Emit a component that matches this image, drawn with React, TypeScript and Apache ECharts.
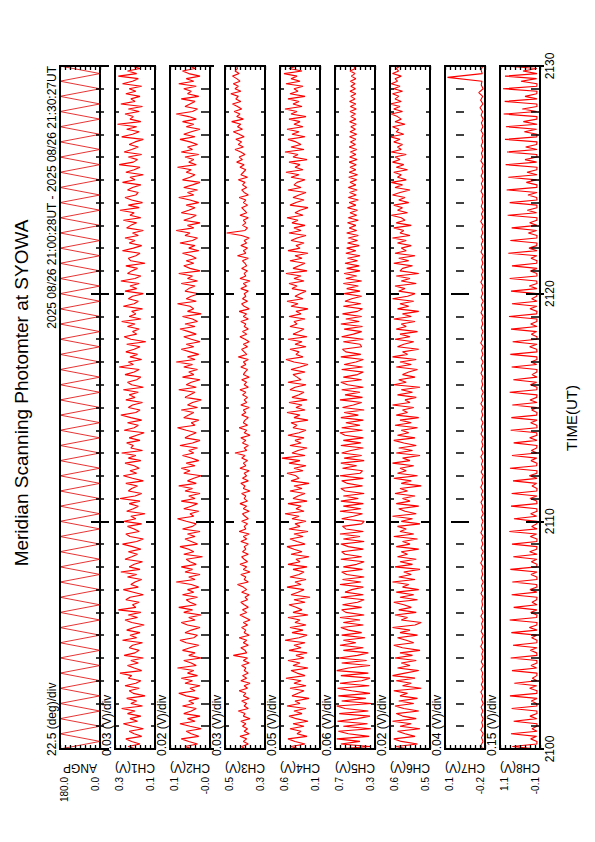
import React, { useEffect, useRef } from 'react';
import * as echarts from 'echarts';

// ---------------- data ----------------
const titleText = 'Meridian Scanning Photomter at SYOWA';
const periodText = '2025 08/26 21:00:28UT - 2025 08/26 21:30:27UT';
const timeTitle = 'TIME(UT)';
const T_START = 2100;
const T_END = 2130;
const timeInterval = 10;

const channelNames = ['ANGP', 'CH1(V)', 'CH2(V)', 'CH3(V)', 'CH4(V)', 'CH5(V)', 'CH6(V)', 'CH7(V)', 'CH8(V)'];
const scaleTexts = ['22.5 (deg)/div', '0.03 (V)/div', '0.02 (V)/div', '0.03 (V)/div', '0.05 (V)/div', '0.06 (V)/div', '0.02 (V)/div', '0.04 (V)/div', '0.15 (V)/div'];
const topLabels = ['180.0', '0.3', '0.1', '0.5', '0.6', '0.7', '0.6', '0.1', '1.1'];
const bottomLabels = ['0.0', '0.1', '-0.0', '0.3', '0.1', '0.3', '0.5', '-0.2', '-0.1'];
// axis minimum and size of one division (ANG in deg, channels in mV), 8 divisions per panel
const axisMin = [0, 90, -20, 300, 150, 240, 480, -200, -150];
const axisStep = [22.5, 30, 20, 30, 50, 60, 20, 40, 150];
const DIVS = 8;

// scanning angle (deg)
const angValues = [
  180, 0, 180, 0, 180, 0, 180, 0, 180, 0, 180, 0, 180, 0, 180, 0, 180, 0, 180, 0,
  180, 0, 180, 0, 180, 0, 180, 0, 180, 0, 180, 0, 180, 0, 180, 0, 180, 0, 180, 0,
  180, 0, 180, 0, 180, 0, 180, 0, 180, 0, 180, 0, 180, 0, 180, 0, 180, 0, 180, 0,
  180, 0, 180, 0, 180, 0, 180, 0, 180, 0, 180, 0, 180, 0, 180, 0, 180, 0, 180, 0,
  180, 0, 180, 0, 180, 0, 180, 0, 180, 0, 180,
];

// photometer channels (mV)
const ch1Values = [
  205, 250, 180, 230, 265, 170, 215, 245, 160, 225,
  280, 195, 240, 175, 255, 210, 290, 165, 235, 200,
  260, 150, 220, 245, 185, 270, 205, 175, 250, 230,
  300, 170, 215, 255, 190, 235, 160, 275, 210, 185,
  245, 225, 165, 285, 200, 240, 180, 260, 215, 155,
  230, 270, 195, 250, 175, 310, 205, 225, 185, 265,
  240, 160, 220, 280, 190, 235, 210, 170, 255, 200,
  295, 180, 245, 215, 165, 270, 230, 195, 250, 175,
  225, 285, 200, 160, 240, 265, 185, 215, 255, 170,
  275, 205, 235, 150, 260, 220, 190, 245, 180, 300,
  210, 170, 250, 230, 195, 265, 160, 225, 280, 200,
  240, 185, 215, 270, 175, 250, 205, 290, 165, 235,
  220, 260, 180, 245, 200, 155, 275, 215, 190, 255,
  170, 235, 295, 205, 180, 250, 225, 165, 265, 210,
  245, 190, 280, 160, 230, 255, 200, 175, 270, 215,
  185, 305, 220, 250, 170, 240, 195, 265, 215, 180,
  260, 145, 235, 275, 200, 225, 185, 255, 210, 290,
  175, 245, 205, 230, 165, 280, 215, 190, 250, 225,
  160, 270, 200, 240, 185, 295, 210, 175, 255, 230,
  195, 265, 150, 235, 250, 205, 180, 285, 220, 170,
  245, 210, 270, 190, 225, 160, 260, 235, 200, 280,
  175, 240, 215, 300, 185, 250, 165, 230, 270, 205,
  190, 255, 225, 175, 285, 210, 240, 160, 265, 215,
  180, 305, 220, 195, 250, 170, 275, 230, 190, 245,
  210, 160, 290, 225, 185, 260, 200, 315, 175, 240,
  220, 270, 185, 250, 165, 295, 210, 235, 180, 265,
  205, 245, 170, 285, 225, 190, 310, 200, 255, 180,
  230,
];
const ch2Values = [
  50, 80, 30, 65, 95, 25, 55, 75, 15, 60,
  100, 40, 70, 20, 85, 55, 35, 90, 45, 65,
  25, 75, 105, 40, 60, 20, 80, 50, 95, 30,
  70, 45, 110, 35, 55, 85, 15, 65, 40, 90,
  60, 25, 75, 100, 45, 30, 80, 55, 20, 70,
  95, 40, 65, 15, 85, 50, 105, 35, 60, 75,
  30, 90, 45, 70, 25, 55, 115, 40, 65, 20,
  80, 50, 95, 35, 60, 75, 10, 85, 45, 65,
  100, 30, 55, 80, 40, 70, 20, 90, 50, 35,
  75, 110, 45, 60, 25, 85, 55, 30, 95, 40,
  65, 20, 80, 50, 105, 35, 70, 45, 15, 85,
  60, 95, 40, 75, 25, 55, 90, 45, 65, 30,
  100, 50, 20, 80, 60, 35, 75, 110, 40, 55,
  25, 85, 65, 45, 95, 30, 70, 50, 15, 80,
  60, 40, 105, 35, 75, 55, 20, 90, 45, 65,
  30, 85, 50, 115, 40, 70, 25, 60, 95, 45,
  75, 20, 55, 85, 35, 65, 100, 40, 80, 30,
  50, 90, 15, 70, 45, 60, 110, 35, 75, 55,
  25, 80, 65, 40, 95, 30, 70, 50, 105, 20,
  60, 85, 45, 75, 35, 55, 90, 25, 65, 40,
  100, 50, 30, 80, 60, 115, 45, 70, 20, 85,
  55, 35, 95, 65, 40, 75, 25, 60, 105, 45,
  70, 30, 85, 50, 20, 90, 60, 40, 75, 55,
  110, 35, 65, 45, 80, 25, 95, 50, 70, 30,
  60, 100, 40, 85, 55, 20, 75, 45, 90, 35,
  65, 115, 50, 30, 80, 60, 40, 95, 25, 70,
  55, 85, 35, 105, 45, 75, 20, 65, 90, 40,
  60,
];
const ch3Values = [
  420, 440, 400, 430, 410, 450, 395, 425, 405, 435,
  415, 445, 390, 430, 420, 460, 400, 425, 410, 440,
  395, 430, 415, 455, 405, 425, 390, 445, 410, 435,
  400, 425, 415, 440, 395, 430, 405, 490, 410, 420,
  445, 400, 430, 410, 455, 395, 425, 415, 440, 405,
  430, 390, 420, 450, 410, 435, 400, 425, 445, 405,
  420, 395, 440, 410, 430, 465, 400, 425, 415, 445,
  390, 430, 410, 450, 405, 425, 440, 400, 435, 415,
  425, 400, 445, 410, 430, 395, 455, 415, 425, 405,
  440, 400, 420, 435, 395, 430, 410, 450, 405, 425,
  415, 440, 390, 430, 420, 445, 400, 435, 410, 425,
  395, 450, 415, 430, 405, 440, 420, 480, 410, 425,
  400, 435, 415, 445, 390, 425, 410, 455, 405, 430,
  420, 400, 440, 415, 430, 395, 445, 410, 425, 405,
  435, 415, 450, 400, 425, 410, 440, 395, 430, 420,
  405, 445, 415, 430, 400, 460, 410, 425, 440, 405,
  430, 395, 420, 450, 410, 435, 400, 425, 415, 445,
  400, 430, 410, 455, 395, 425, 440, 405, 435, 415,
  425, 400, 445, 410, 430, 390, 450, 415, 425, 405,
  440, 410, 420, 435, 400, 465, 415, 430, 405, 445,
  410, 425, 395, 440, 530, 420, 405, 435, 415, 430,
  400, 450, 410, 425, 440, 405, 430, 415, 455, 400,
  425, 440, 410, 435, 420, 460, 405, 445, 430, 415,
  450, 425, 470, 435, 455, 420, 445, 480, 430, 460,
  440, 475, 425, 455, 490, 435, 465, 445, 500, 430,
  470, 450, 485, 440, 465, 495, 445, 475, 460, 505,
  445, 480, 460, 490, 450, 470, 495, 455, 480, 465,
  470,
];
const ch4Values = [
  360, 440, 300, 400, 470, 280, 380, 340, 450, 310,
  420, 270, 390, 460, 330, 410, 290, 480, 350, 400,
  260, 430, 370, 310, 450, 290, 410, 340, 490, 300,
  380, 440, 270, 420, 350, 470, 310, 390, 280, 460,
  340, 410, 300, 500, 360, 280, 430, 320, 450, 290,
  400, 350, 470, 270, 420, 330, 390, 460, 300, 410,
  250, 440, 370, 310, 480, 340, 400, 290, 450, 360,
  310, 420, 280, 470, 350, 390, 260, 440, 330, 410,
  480, 300, 380, 450, 320, 410, 270, 460, 350, 400,
  290, 430, 360, 500, 310, 390, 340, 470, 280, 420,
  370, 300, 450, 330, 410, 260, 440, 360, 390, 480,
  320, 410, 290, 460, 350, 530, 300, 430, 370, 280,
  450, 340, 400, 310, 470, 360, 290, 420, 380, 440,
  270, 410, 350, 480, 300, 390, 330, 460, 280, 430,
  360, 310, 450, 400, 290, 470, 340, 380, 420, 300,
  440, 350, 270, 410, 490, 320, 390, 360, 450, 290,
  400, 330, 470, 280, 420, 360, 310, 450, 380, 410,
  300, 460, 340, 390, 270, 440, 370, 480, 320, 400,
  350, 290, 430, 380, 460, 310, 410, 340, 490, 280,
  420, 360, 300, 450, 330, 400, 270, 470, 350, 390,
  310, 440, 380, 290, 460, 340, 410, 300, 430, 370,
  480, 320, 400, 350, 270, 450, 390, 310, 420, 360,
  290, 470, 340, 410, 380, 300, 440, 360, 490, 320,
  400, 350, 460, 280, 420, 370, 500, 310, 440, 340,
  390, 470, 300, 430, 360, 480, 320, 410, 350, 460,
  290, 440, 380, 500, 330, 420, 360, 470, 300, 450,
  370, 410, 320, 490, 350, 440, 380, 510, 330, 460,
  380,
];
const ch5Values = [
  690, 300, 650, 420, 700, 310, 560, 680, 290, 620,
  330, 690, 450, 300, 670, 320, 600, 700, 280, 640,
  350, 680, 300, 520, 690, 310, 660, 400, 300, 650,
  320, 700, 560, 300, 640, 340, 680, 450, 320, 620,
  380, 660, 470, 620, 360, 640, 400, 560, 650, 380,
  620, 420, 660, 370, 590, 640, 400, 630, 450, 370,
  650, 380, 600, 520, 380, 660, 410, 630, 370, 580,
  640, 390, 620, 460, 370, 650, 400, 600, 640, 380,
  560, 650, 370, 620, 420, 660, 380, 590, 630, 400,
  370, 640, 500, 390, 660, 410, 620, 380, 650, 440,
  620, 370, 600, 650, 390, 570, 640, 380, 660, 420,
  390, 630, 460, 650, 370, 610, 400, 640, 530, 380,
  650, 410, 620, 380, 600, 660, 390, 640, 420, 590,
  380, 650, 440, 610, 370, 630, 500, 400, 660, 390,
  600, 420, 640, 380, 570, 650, 400, 620, 450, 380,
  640, 390, 610, 470, 380, 650, 410, 590, 630, 400,
  420, 620, 380, 640, 500, 400, 610, 390, 650, 430,
  590, 400, 630, 450, 390, 620, 410, 600, 520, 400,
  610, 420, 580, 440, 620, 400, 590, 460, 610, 420,
  580, 430, 600, 450, 570, 420, 590, 470, 580, 430,
  570, 450, 560, 440, 580, 460, 550, 470, 570, 440,
  560, 460, 540, 450, 570, 470, 550, 440, 560, 465,
  545, 455, 560, 470, 540, 460, 555, 450, 550, 470,
  540, 465, 550, 455, 545, 470, 535, 460, 550, 475,
  535, 470, 545, 460, 540, 475, 530, 465, 545, 470,
  530, 475, 540, 465, 535, 470, 545, 480, 530, 470,
  540, 475, 530, 480, 535, 470, 525, 480, 540, 475,
  500,
];
const ch6Values = [
  570, 615, 530, 595, 625, 540, 580, 610, 520, 600,
  555, 630, 535, 590, 615, 525, 585, 620, 545, 605,
  530, 600, 570, 625, 515, 590, 555, 615, 540, 630,
  580, 525, 610, 560, 595, 535, 620, 550, 600, 520,
  590, 625, 545, 575, 610, 530, 600, 560, 630, 540,
  515, 595, 570, 620, 535, 605, 555, 585, 625, 530,
  600, 545, 615, 525, 590, 565, 630, 540, 605, 555,
  585, 520, 620, 550, 600, 535, 610, 570, 595, 525,
  615, 560, 590, 530, 625, 545, 600, 575, 610, 520,
  595, 550, 630, 535, 580, 605, 525, 615, 560, 590,
  540, 620, 570, 600, 515, 595, 555, 625, 530, 610,
  575, 600, 545, 630, 560, 590, 520, 615, 550, 605,
  535, 585, 625, 540, 610, 565, 595, 530, 620, 555,
  600, 525, 615, 570, 590, 545, 630, 560, 580, 535,
  610, 550, 595, 520, 625, 575, 605, 540, 590, 565,
  530, 615, 555, 600, 535, 630, 570, 590, 525, 610,
  585, 545, 620, 560, 600, 530, 615, 575, 595, 540,
  625, 555, 590, 525, 610, 565, 600, 545, 630, 570,
  540, 605, 580, 620, 535, 595, 560, 615, 525, 600,
  590, 550, 625, 565, 605, 540, 620, 575, 595, 555,
  610, 575, 630, 560, 600, 585, 625, 555, 615, 580,
  595, 635, 570, 610, 590, 625, 565, 605, 580, 630,
  600, 560, 620, 590, 635, 575, 610, 595, 625, 570,
  615, 585, 630, 600, 620, 575, 635, 595, 610, 590,
  625, 600, 640, 585, 615, 605, 630, 580, 620, 595,
  610, 635, 590, 625, 600, 640, 595, 620, 605, 630,
  590, 625, 600, 635, 610, 620, 595, 630, 605, 615,
  600,
];
const ch7Values = [
  -180, -168, -184, -172, -186, -166, -182, -174, -185, -170, -183, -169, -186, -173, -181, -167, -185, -171, -184, -175,
  -182, -168, -186, -170, -183, -174, -185, -166, -181, -172, -186, -169, -182, -173, -185, -167, -184, -171, -180, -175,
  -185, -168, -183, -172, -186, -170, -181, -174, -184, -166, -182, -171, -186, -169, -183, -173, -185, -167, -181, -172,
  -184, -170, -186, -174, -182, -168, -185, -171, -183, -166, -181, -173, -186, -169, -184, -172, -182, -167, -185, -170,
  -183, -174, -186, -168, -181, -171, -184, -169, -182, -173, -185, -167, -183, -172, -186, -170, -181, -174, -184, -168,
  -182, -171, -185, -169, -183, -173, -186, -166, -181, -172, -184, -170, -182, -174, -185, -168, -183, -171, -186, -169,
  -181, -173, -184, -167, -182, -172, -185, -170, -183, -174, -186, -168, -181, -171, -184, -169, -182, -173, -185, -166,
  -183, -172, -186, -170, -181, -174, -184, -168, -182, -171, -185, -169, -183, -173, -186, -167, -181, -172, -184, -170,
  -182, -174, -185, -168, -183, -171, -186, -169, -181, -160, -184, -165, -182, -150, -185, -170, -176, 100, -178, -168,
  -183,
];
const ch8Values = [
  -60, 680, -55, -60, 130, -50, 720, -60, 90, -55,
  -60, 640, -50, 150, -60, -55, 700, -60, -45, 110,
  -60, 750, -55, -60, 160, -50, 620, -60, 80, -55,
  -60, 690, -50, 120, -60, -55, 730, -60, -50, 140,
  -60, 660, -55, -60, 100, -50, 710, -60, 170, -55,
  -60, 760, -50, -60, 130, -55, 640, -60, 90, -50,
  -60, 700, -55, 150, -60, -50, 680, -60, -55, 120,
  -60, 740, -50, -60, 110, -55, 650, -60, 160, -50,
  -60, 690, -55, -60, 140, -50, 770, -60, 100, -55,
  -60, 630, -50, 130, -60, -55, 720, -60, -50, 150,
  -60, 700, -55, -60, 90, -50, 660, -60, 170, -55,
  -60, 750, -50, -60, 120, -55, 690, -60, 110, -50,
  -60, 640, -55, 160, -60, -50, 730, -60, -55, 130,
  -60, 710, -50, -60, 100, -55, 680, -60, 150, -50,
  -60, 760, -55, -60, 140, -50, 650, -60, 90, -55,
  -60, 700, -50, 120, -60, -55, 740, -60, -50, 160,
  -60, 670, -55, -60, 110, -50, 720, -60, 130, -55,
  -60, 780, -50, -60, 150, -55, 690, -60, 100, -50,
  -60, 720, -55, 170, -60, -50, 760, -60, -55, 140,
  -60, 690, -50, -60, 120, -55, 800, -60, 180, -50,
  -60, 740, -55, -60, 200, -50, 700, -60, 160, -55,
  -60, 820, -50, 230, -60, -55, 760, -60, -50, 210,
  -60, 850, -55, -60, 260, -50, 800, -60, 240, -55,
  -60, 880, -50, 300, -60, -55, 840, -60, 280, -50,
  -60, 900, -55, -60, 320, -50, 870, -60, 350, -55,
  -60, 940, -50, 380, -60, -55, 910, -60, 300, -50,
  -60, 960, -55, -60, 420, -50, 900, -60, 360, -55,
  880,
];

const channelValues = [angValues, ch1Values, ch2Values, ch3Values, ch4Values, ch5Values, ch6Values, ch7Values, ch8Values];

// ---------------- layout ----------------
const PAGE_W = 595;
const PAGE_H = 842;
const PANEL_X0 = 60;
const PANEL_STEP = 55;
const PANEL_W = 40;
const PANEL_TOP = 66;
const PANEL_BOTTOM = 749;
const FONT = '"Liberation Sans", Arial, Helvetica, sans-serif';
const LINE_RED = '#ff0000';

function txt(text: string, x: number, y: number, rotation: number, align: string, vAlign: string, fontSize: number) {
  return {
    type: 'text',
    x,
    y,
    rotation,
    silent: true,
    style: {
      text,
      x: 0,
      y: 0,
      fill: '#000',
      fontSize,
      fontFamily: FONT,
      align,
      verticalAlign: vAlign,
      textAlign: align,
      textVerticalAlign: vAlign,
    },
  };
}

function buildOption() {
  const grid: any[] = [];
  const xAxis: any[] = [];
  const yAxis: any[] = [];
  const series: any[] = [];
  const graphic: any[] = [];
  const n = channelNames.length;
  const R90 = Math.PI / 2;

  for (let i = 0; i < n; i++) {
    const left = PANEL_X0 + i * PANEL_STEP;
    const right = left + PANEL_W;
    grid.push({
      left,
      top: PANEL_TOP,
      width: PANEL_W,
      height: PANEL_BOTTOM - PANEL_TOP,
      show: true,
      borderColor: '#000',
      borderWidth: 2,
      backgroundColor: 'rgba(0,0,0,0)',
      z: 5,
    });
    const vmin = axisMin[i];
    const vmax = axisMin[i] + DIVS * axisStep[i];
    ['bottom', 'top'].forEach((pos) => {
      xAxis.push({
        type: 'value',
        gridIndex: i,
        position: pos,
        inverse: true,
        min: vmin,
        max: vmax,
        interval: axisStep[i],
        axisLine: { show: false },
        axisTick: { show: true, inside: true, length: 4, lineStyle: { color: '#000', width: 1.3 } },
        axisLabel: { show: false },
        splitLine: { show: false },
        z: 6,
      });
    });
    ['left', 'right'].forEach((pos) => {
      const isLabelAxis = i === n - 1 && pos === 'right';
      yAxis.push({
        type: 'value',
        gridIndex: i,
        position: pos,
        min: T_START,
        max: T_END,
        interval: timeInterval,
        axisLine: { show: false },
        axisTick: { show: true, inside: true, length: 9, lineStyle: { color: '#000', width: 2 } },
        minorTick: { show: true, splitNumber: 10, length: 4, lineStyle: { color: '#000', width: 1.5 } },
        axisLabel: isLabelAxis
          ? {
              show: true,
              rotate: 90,
              margin: 4,
              fontSize: 12,
              color: '#000',
              fontFamily: FONT,
              showMinLabel: true,
              showMaxLabel: true,
              formatter: (v: number) => String(Math.round(v)),
            }
          : { show: false },
        splitLine: { show: false },
        minorSplitLine: { show: false },
        z: 6,
      });
    });
    const vals = channelValues[i];
    const m = vals.length;
    series.push({
      type: 'line',
      xAxisIndex: 2 * i,
      yAxisIndex: 2 * i,
      data: vals.map((v, k) => [v, T_START + ((T_END - T_START) * k) / (m - 1)]),
      showSymbol: false,
      symbol: 'none',
      silent: true,
      clip: true,
      lineStyle: { color: i === 0 ? '#e00000' : LINE_RED, width: i === 0 ? 0.8 : 1.1 },
      z: 2,
    });

    // texts around each panel
    graphic.push(txt(scaleTexts[i], left - 8, 756, R90, 'left', 'middle', 12));
    graphic.push(txt(channelNames[i], left + PANEL_W / 2, 768, Math.PI, 'center', 'middle', 12));
    graphic.push(txt(topLabels[i], left + 4, 777, R90, 'right', 'middle', 10));
    graphic.push(txt(bottomLabels[i], right - 5, 777, R90, 'right', 'middle', 10));
  }

  graphic.push(txt(titleText, 21, 393, R90, 'center', 'middle', 19));
  graphic.push(txt(periodText, 52, PANEL_TOP, R90, 'right', 'middle', 12));
  graphic.push(txt(timeTitle, 571, 418, R90, 'center', 'middle', 15));

  return {
    animation: false,
    backgroundColor: '#fff',
    textStyle: { fontFamily: FONT },
    grid,
    xAxis,
    yAxis,
    series,
    graphic: { elements: graphic },
  };
}

export default function App() {
  const ref = useRef<HTMLDivElement>(null);
  useEffect(() => {
    if (!ref.current) return;
    const chart = echarts.init(ref.current, null, { renderer: 'svg' });
    chart.setOption(buildOption() as any);
    return () => chart.dispose();
  }, []);
  return (
    <div
      ref={ref}
      style={{ position: 'fixed', left: 0, top: 0, width: PAGE_W, height: PAGE_H, background: '#fff' }}
    />
  );
}
